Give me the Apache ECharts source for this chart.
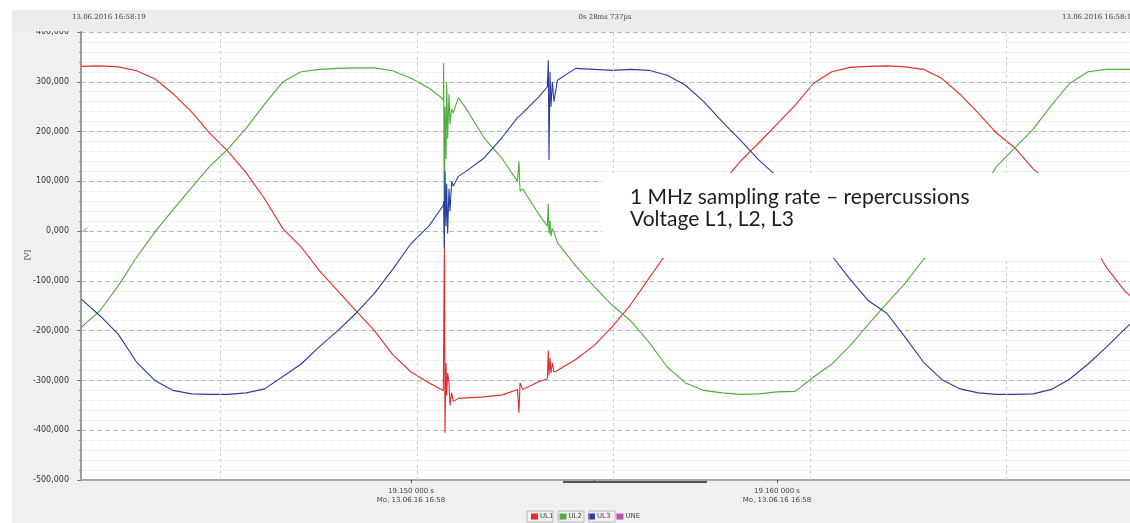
<!DOCTYPE html>
<html>
<head>
<meta charset="utf-8">
<script src="https://cdn.jsdelivr.net/npm/echarts@6/dist/echarts.min.js"></script>
<style>
html,body{margin:0;padding:0;background:#fff;}
#chart{width:1130px;height:523px;}
</style>
</head>
<body>
<div id="chart"></div>
<script>
// time in ms after 19.140 s
var timeMs = [
  1.0, 1.5, 2.0, 2.5, 3.0, 3.5, 4.0, 4.5, 5.0, 5.5, 6.0, 6.5, 7.0, 7.5, 8.0, 8.5, 9.0, 9.5, 10.0, 10.5, 10.8,
  10.883, 10.892, 10.911, 10.929, 10.956, 10.975, 11.002, 11.038, 11.066, 11.111, 11.157, 11.293,
  11.5, 12.0, 12.5, 12.91, 12.95, 12.98, 13.05, 13.5,
  13.725, 13.752, 13.77, 13.798, 13.825, 13.862, 13.907,
  14.0, 14.5, 15.0, 15.5, 16.0, 16.5, 17.0, 17.5, 18.0, 18.5, 19.0, 19.5, 20.0,
  20.5, 21.0, 21.5, 22.0, 22.5, 23.0, 23.5, 24.0, 24.5, 25.0, 25.5, 26.0, 26.5, 27.0, 27.5, 28.0, 28.5, 29.0, 29.5, 29.65
];

var valuesUL1 = [
  331000, 332000, 330000, 322000, 306000, 276000, 240000, 197000, 160000, 117000, 65000, 5000, -32000, -80000, -120000, -160000, -200000, -248000, -283000, -305000, -317000,
  -320000, -322000, -35000, -405000, -265000, -330000, -285000, -305000, -350000, -325000, -342000, -336000,
  -335000, -333000, -329000, -318000, -365000, -305000, -318000, -302000,
  -297000, -240000, -290000, -255000, -285000, -265000, -283000,
  -280000, -258000, -230000, -192000, -148000, -95000, -43000, 3000, 50000, 97000, 140000, 177000, 215000,
  253000, 297000, 320000, 329000, 331000, 332000, 330000, 325000, 307000, 275000, 237000, 197000, 167000, 125000, 94000, 42000, -10000, -73000, -120000, -130000
];

var valuesUL2 = [
  -193000, -160000, -110000, -53000, -2000, 43000, 87000, 130000, 165000, 207000, 255000, 300000, 320000, 325000, 327000, 328000, 328000, 322000, 307000, 287000, 270000,
  263000, 337000, -35000, 250000, 145000, 300000, 185000, 275000, 215000, 245000, 238000, 268000,
  247000, 187000, 145000, 100000, 140000, 80000, 85000, 33000,
  10000, 55000, -5000, 20000, -10000, 5000, -3000,
  -23000, -70000, -111000, -149000, -180000, -223000, -273000, -305000, -320000, -325000, -328000, -327000, -323000,
  -322000, -293000, -267000, -230000, -187000, -145000, -105000, -57000, -24000, 23000, 71000, 130000, 167000, 205000, 253000, 297000, 320000, 325000, 325000, 325000
];

var valuesUL3 = [
  -137000, -170000, -207000, -263000, -300000, -320000, -327000, -328000, -328000, -325000, -317000, -292000, -267000, -232000, -200000, -165000, -125000, -77000, -25000, 11000, 43000,
  52000, 60000, -35000, 120000, 10000, 95000, -5000, 85000, 40000, 100000, 90000, 110000,
  120000, 147000, 189000, 228000, 230000, 232000, 237000, 270000,
  290000, 343000, 143000, 320000, 250000, 300000, 260000,
  303000, 327000, 325000, 323000, 325000, 323000, 313000, 293000, 260000, 220000, 183000, 143000, 110000,
  60000, 3000, -50000, -97000, -140000, -165000, -213000, -263000, -298000, -317000, -325000, -328000, -328000, -327000, -318000, -297000, -267000, -233000, -197000, -187000
];

var seriesNames = ['UL1', 'UL2', 'UL3', 'UNE'];
var seriesColors = ['#e42c2c', '#4fae3c', '#2c3d9e', '#c050b4'];
var xTickMs = [10, 15, 20];
var xLabelMs = [10, 20];
var gridLinesMs = [4.781, 10.164, 15.519, 20.902, 26.257];
var yTicks = { min: -500000, max: 400000, interval: 100000 };
var headerTexts = ['13.06.2016 16:58:19', '0s 28ms 737\u00b5s', '13.06.2016 16:58:19'];
var noteLines = ['1 MHz sampling rate \u2013 repercussions', 'Voltage L1, L2, L3'];

function pairs(vals) { return timeMs.map(function (t, i) { return [t, vals[i]]; }); }

var chart = echarts.init(document.getElementById('chart'), null, { renderer: 'canvas' });

var lineBase = function (name, vals, color) {
  return {
    name: name, type: 'line', data: vals ? pairs(vals) : [],
    showSymbol: false, symbol: 'none', sampling: null,
    lineStyle: { width: 1.1, color: color }, itemStyle: { color: color },
    animation: false, z: 3
  };
};

var s1 = lineBase('UL1', valuesUL1, seriesColors[0]);
s1.markLine = {
  silent: true, symbol: ['none', 'none'], animation: false,
  label: { show: false },
  lineStyle: { color: '#cfcfcf', type: [3, 3], width: 1 },
  data: gridLinesMs.map(function (v) { return { xAxis: v }; })
};
s1.z = 2;

var frame = function (x) {
  return { type: 'rect', z: 99, shape: { x: x, y: 511, width: 26, height: 11 }, style: { fill: 'none', stroke: '#b8b8b8', lineWidth: 1 } };
};

var option = {
  backgroundColor: '#f0f0f0',
  animation: false,
  textStyle: { fontFamily: 'DejaVu Sans' },
  grid: { left: 81, right: 0, top: 32, bottom: 43, show: true, backgroundColor: '#ffffff', borderWidth: 0 },
  legend: {
    data: seriesNames, left: 526, top: 508, icon: 'rect', itemWidth: 7, itemHeight: 6, itemGap: 6,
    textStyle: { fontSize: 7, color: '#444', padding: [0, 0, 0, -3] }
  },
  xAxis: {
    type: 'value', min: 0.984, max: 29.645,
    axisLine: { show: true, onZero: false, lineStyle: { color: '#a8a8a8', width: 2 } },
    axisTick: { show: true, customValues: xTickMs, length: 3, lineStyle: { color: '#555' } },
    axisLabel: {
      customValues: xLabelMs, fontSize: 7, color: '#444', lineHeight: 9, margin: 7,
      formatter: function (v) { return (19.140 + v / 1000).toFixed(3) + ' 000 s\nMo, 13.06.16 16:58'; }
    },
    splitLine: { show: false }
  },
  yAxis: {
    type: 'value', min: yTicks.min, max: yTicks.max, interval: yTicks.interval,
    axisLine: { show: true, lineStyle: { color: '#9a9a9a', width: 2 } },
    axisTick: { show: true, length: 4, lineStyle: { color: '#777' } },
    minorTick: { show: true, splitNumber: 5, length: 2, lineStyle: { color: '#999' } },
    axisLabel: {
      fontSize: 8, color: '#333', margin: 12,
      formatter: function (v) {
        var s = v < 0 ? '-' : '';
        return s + Math.abs(v) / 1000 + ',000';
      }
    },
    splitLine: { show: true, lineStyle: { color: '#b9b9b9', type: [5, 3], width: 1 } },
    minorSplitLine: { show: true, lineStyle: { color: '#ececec', type: [6, 2], width: 1 } }
  },
  series: [
    s1,
    lineBase('UL2', valuesUL2, seriesColors[1]),
    lineBase('UL3', valuesUL3, seriesColors[2]),
    lineBase('UNE', null, seriesColors[3])
  ],
  graphic: [
    { type: 'rect', z: 100, shape: { x: 0, y: 0, width: 1130, height: 10 }, style: { fill: '#ffffff' } },
    { type: 'rect', z: 100, shape: { x: 0, y: 0, width: 12, height: 523 }, style: { fill: '#ffffff' } },
    { type: 'rect', z: 100, shape: { x: 12, y: 10, width: 1118, height: 21 }, style: { fill: '#ececec' } },
    { type: 'text', z: 101, x: 72, y: 17, style: { text: headerTexts[0], fontSize: 7, fill: '#444', fontFamily: 'DejaVu Serif', verticalAlign: 'middle' } },
    { type: 'text', z: 101, x: 605, y: 17, style: { text: headerTexts[1], fontSize: 7, fill: '#444', fontFamily: 'DejaVu Serif', align: 'center', verticalAlign: 'middle' } },
    { type: 'text', z: 101, x: 1062, y: 17, style: { text: headerTexts[2], fontSize: 7, fill: '#444', fontFamily: 'DejaVu Serif', verticalAlign: 'middle' } },
    { type: 'text', z: 101, x: 27, y: 255, rotation: Math.PI / 2, style: { text: '[V]', fontSize: 8, fill: '#444', align: 'center', verticalAlign: 'middle' } },
    { type: 'text', z: 101, x: 83, y: 231, style: { text: '<', fontSize: 9, fill: '#999', verticalAlign: 'middle' } },
    { type: 'line', z: 101, shape: { x1: 563, y1: 482, x2: 707, y2: 482 }, style: { stroke: '#555', lineWidth: 2 } },
    frame(527), frame(558), frame(589),
    { type: 'rect', z: 100, shape: { x: 602, y: 173, width: 528, height: 85 }, style: { fill: '#ffffff' } },
    { type: 'text', z: 101, x: 630, y: 197, style: { text: noteLines[0], fontSize: 21, fill: '#1e1e1e', fontFamily: 'Lato', verticalAlign: 'middle' } },
    { type: 'text', z: 101, x: 630, y: 219, style: { text: noteLines[1], fontSize: 21, fill: '#1e1e1e', fontFamily: 'Lato', verticalAlign: 'middle' } }
  ]
};
chart.setOption(option);
</script>
</body>
</html>
